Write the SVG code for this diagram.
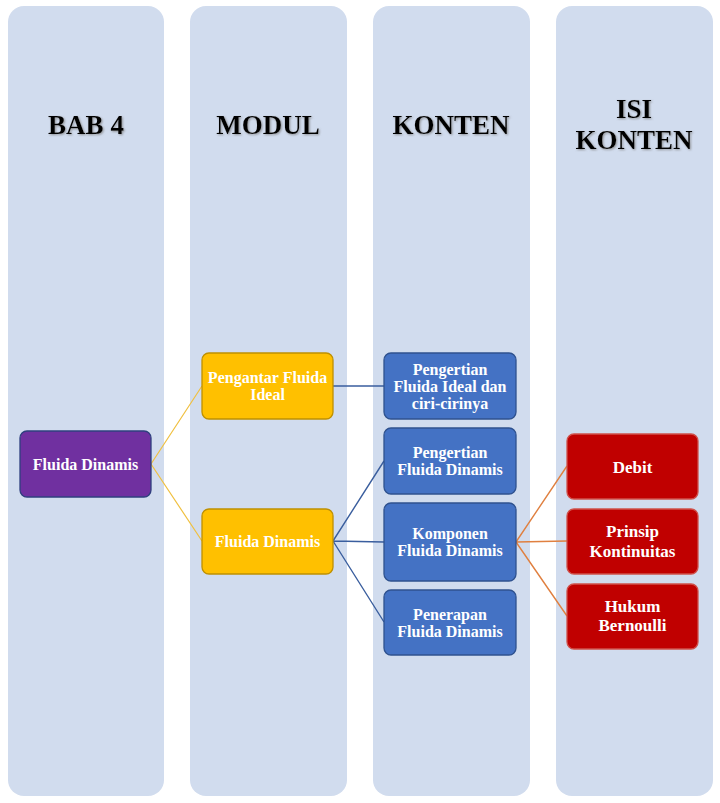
<svg xmlns="http://www.w3.org/2000/svg" width="720" height="803" viewBox="0 0 720 803">
<defs>
<filter id="shadow" x="-10%" y="-20%" width="120%" height="140%">
<feDropShadow dx="1" dy="1" stdDeviation="0.8" flood-color="#808080" flood-opacity="0.8"/>
</filter>
</defs>
<style>
.col{fill:#D1DCEE}
.hdr{font-family:"Liberation Serif","Times New Roman",serif;font-weight:bold;font-size:27px;fill:#000;text-anchor:middle;filter:url(#shadow)}
.lbl{font-family:"Liberation Serif","Times New Roman",serif;font-weight:bold;font-size:16px;fill:#fff;text-anchor:middle}
.lbl2{font-family:"Liberation Serif","Times New Roman",serif;font-weight:bold;font-size:17px;fill:#fff;text-anchor:middle}
.purple{fill:#7030A0;stroke:#2F3F7F;stroke-width:1.3}
.yellow{fill:#FFC000;stroke:#BF9000;stroke-width:1.3}
.blue{fill:#4472C4;stroke:#2F528F;stroke-width:1.3}
.red{fill:#C00000;stroke:#D0504A;stroke-width:1.3}
.cy{stroke:#F0C040;stroke-width:1.2;fill:none}
.cb{stroke:#3A5E9E;stroke-width:1.4;fill:none}
.co{stroke:#E08040;stroke-width:1.4;fill:none}
</style>
<rect width="720" height="803" fill="#fff"/>
<g id="columns">
<rect class="col" x="8" y="6" width="156" height="790" rx="16"/>
<rect class="col" x="190" y="6" width="157" height="790" rx="16"/>
<rect class="col" x="373" y="6" width="157" height="790" rx="16"/>
<rect class="col" x="556" y="6" width="157" height="790" rx="16"/>
<text class="hdr" x="86" y="134">BAB 4</text>
<text class="hdr" x="268" y="134">MODUL</text>
<text class="hdr" x="451" y="134">KONTEN</text>
<text class="hdr" x="634" y="118">ISI</text>
<text class="hdr" x="634" y="149">KONTEN</text>
</g>
<g id="connectors">
<path class="cy" d="M151,464 L202,386 M151,464 L202,541"/>
<path class="cb" d="M333,386 L384,386 M333,541 L384,461 M333,541 L384,542 M333,541 L384,622"/>
<path class="co" d="M516,542 L567,466 M516,542 L567,541 M516,542 L567,616"/>
</g>
<g id="bab4">
<rect class="purple" x="20" y="431" width="131" height="66" rx="7"/>
<text class="lbl" x="85.5" y="470">Fluida Dinamis</text>
</g>
<g id="modul-pengantar">
<rect class="yellow" x="202" y="353" width="131" height="66" rx="7"/>
<text class="lbl" x="267.5" y="383">Pengantar Fluida</text>
<text class="lbl" x="267.5" y="400">Ideal</text>
</g>
<g id="modul-fluida">
<rect class="yellow" x="202" y="509" width="131" height="65" rx="7"/>
<text class="lbl" x="267.5" y="547">Fluida Dinamis</text>
</g>
<g id="konten-ideal">
<rect class="blue" x="384" y="353" width="132" height="66" rx="7"/>
<text class="lbl" x="450" y="375">Pengertian</text>
<text class="lbl" x="450" y="392">Fluida Ideal dan</text>
<text class="lbl" x="450" y="409">ciri-cirinya</text>
</g>
<g id="konten-pengertian">
<rect class="blue" x="384" y="428" width="132" height="66" rx="7"/>
<text class="lbl" x="450" y="458">Pengertian</text>
<text class="lbl" x="450" y="475">Fluida Dinamis</text>
</g>
<g id="konten-komponen">
<rect class="blue" x="384" y="503" width="132" height="78" rx="7"/>
<text class="lbl" x="450" y="539">Komponen</text>
<text class="lbl" x="450" y="556">Fluida Dinamis</text>
</g>
<g id="konten-penerapan">
<rect class="blue" x="384" y="590" width="132" height="65" rx="7"/>
<text class="lbl" x="450" y="620">Penerapan</text>
<text class="lbl" x="450" y="637">Fluida Dinamis</text>
</g>
<g id="isi-debit">
<rect class="red" x="567" y="434" width="131" height="65" rx="7"/>
<text class="lbl2" x="632.5" y="473">Debit</text>
</g>
<g id="isi-kontinuitas">
<rect class="red" x="567" y="509" width="131" height="65" rx="7"/>
<text class="lbl2" x="632.5" y="537">Prinsip</text>
<text class="lbl2" x="632.5" y="557">Kontinuitas</text>
</g>
<g id="isi-bernoulli">
<rect class="red" x="567" y="584" width="131" height="65" rx="7"/>
<text class="lbl2" x="632.5" y="612">Hukum</text>
<text class="lbl2" x="632.5" y="631">Bernoulli</text>
</g>
</svg>
